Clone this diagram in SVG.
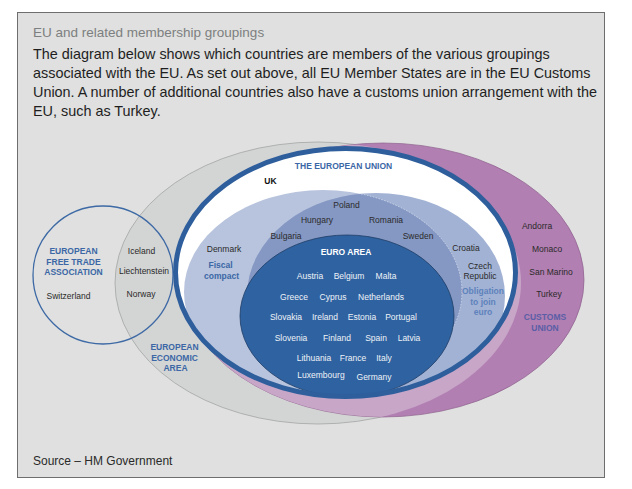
<svg xmlns="http://www.w3.org/2000/svg" width="632" height="489" viewBox="0 0 632 489">
<defs>
<style>
text{font-family:"Liberation Sans",Arial,Helvetica,sans-serif}
.hd{font-size:14.4px;fill:#1e1e1e}
.ti{font-size:13.5px;fill:#7d7f80}
.c{font-size:8.5px;fill:#2a2a2a;text-anchor:middle}
.w{font-size:8.5px;fill:#eef2f8;text-anchor:middle}
.b{font-size:8.5px;font-weight:bold;fill:#3b67a6;text-anchor:middle}
.ob{font-size:8.5px;font-weight:bold;fill:#5e82bc;text-anchor:middle}
.cu{font-size:8.5px;font-weight:bold;fill:#5a5ea6;text-anchor:middle}
</style>
<clipPath id="clipEU"><ellipse cx="345.5" cy="272.5" rx="170" ry="124"/></clipPath>
<clipPath id="clipCU"><ellipse cx="383" cy="280" rx="201" ry="137"/></clipPath>
<clipPath id="clipFC"><ellipse cx="323" cy="292" rx="139" ry="102"/></clipPath>
<clipPath id="clipOB"><ellipse cx="376" cy="296" rx="129" ry="103"/></clipPath>
</defs>
<rect x="0" y="0" width="632" height="489" fill="#ffffff"/>
<rect id="panel" x="17.5" y="12.5" width="587" height="465" fill="#dfe0df" stroke="#6e6e6e" stroke-width="1"/>
<text class="ti" x="33" y="37">EU and related membership groupings</text>
<text class="hd" x="33" y="59">The diagram below shows which countries are members of the various groupings</text>
<text class="hd" x="33" y="78">associated with the EU. As set out above, all EU Member States are in the EU Customs</text>
<text class="hd" x="33" y="97">Union. A number of additional countries also have a customs union arrangement with the</text>
<text class="hd" x="33" y="116">EU, such as Turkey.</text>

<g id="eea">
<ellipse cx="318" cy="283" rx="203" ry="141" fill="#d3d4d4" stroke="#a3a4a4" stroke-width="0.8"/>
</g>
<g id="customs-union">
<ellipse cx="383" cy="280" rx="201" ry="137" fill="#b27fb2" stroke="#8c5f8c" stroke-width="0.7"/>
<ellipse cx="318" cy="283" rx="203" ry="141" fill="#c7a6c7" clip-path="url(#clipCU)"/>
</g>
<g id="efta">
<ellipse cx="103" cy="275" rx="70" ry="69" fill="none" stroke="#3d69a5" stroke-width="1.3"/>
</g>
<g id="eu">
<ellipse cx="345.5" cy="272.5" rx="170" ry="124" fill="#ffffff"/>
</g>
<g id="fiscal-compact" clip-path="url(#clipEU)">
<ellipse cx="323" cy="292" rx="139" ry="102" fill="#b8c4dd"/>
</g>
<g id="obligation" clip-path="url(#clipEU)">
<ellipse cx="376" cy="296" rx="129" ry="103" fill="#a2b2d4"/>
<ellipse cx="323" cy="292" rx="139" ry="102" fill="#8598c3" clip-path="url(#clipOB)"/>
<ellipse cx="323" cy="292" rx="139" ry="102" fill="none" stroke="#c9d2e6" stroke-width="1" stroke-dasharray="1.5 1.5" clip-path="url(#clipOB)"/>
</g>
<g id="euro-area">
<ellipse cx="347" cy="316" rx="107" ry="81" fill="#2f62a0" stroke="#1d3c66" stroke-width="0.8"/>
</g>
<g id="eu-ring">
<ellipse cx="345.5" cy="272.5" rx="170" ry="124" fill="none" stroke="#2e5e9c" stroke-width="5"/>
</g>
<g id="connectors"/>

<g id="labels-efta">
<text class="b" x="73.5" y="254">EUROPEAN</text>
<text class="b" x="73.5" y="264.5">FREE TRADE</text>
<text class="b" x="73.5" y="275">ASSOCIATION</text>
<text class="c" x="68.5" y="299">Switzerland</text>
<text class="c" x="141.5" y="254">Iceland</text>
<text class="c" x="144" y="274">Liechtenstein</text>
<text class="c" x="141" y="297">Norway</text>
</g>
<g id="labels-eea">
<text class="b" x="174.5" y="350">EUROPEAN</text>
<text class="b" x="174.5" y="360.5">ECONOMIC</text>
<text class="b" x="175.5" y="371">AREA</text>
</g>
<g id="labels-eu">
<text class="b" x="343.5" y="168.5">THE EUROPEAN UNION</text>
<text x="270.5" y="184" style="font-size:8.5px;font-weight:bold;fill:#111;text-anchor:middle">UK</text>
<text class="c" x="346.5" y="208">Poland</text>
<text class="c" x="317" y="223">Hungary</text>
<text class="c" x="386" y="223">Romania</text>
<text class="c" x="286" y="239">Bulgaria</text>
<text class="c" x="418" y="239">Sweden</text>
<text class="c" x="224" y="252">Denmark</text>
<text class="c" x="466" y="251">Croatia</text>
<text class="b" x="220.5" y="268">Fiscal</text>
<text class="b" x="221.5" y="278.5">compact</text>
<text class="c" x="480" y="269">Czech</text>
<text class="c" x="480" y="279">Republic</text>
<text class="ob" x="483" y="294">Obligation</text>
<text class="ob" x="483" y="304.5">to join</text>
<text class="ob" x="483" y="315">euro</text>
</g>
<g id="labels-euro">
<text x="346" y="255" style="font-size:8.5px;font-weight:bold;fill:#ffffff;text-anchor:middle">EURO AREA</text>
<text class="w" x="310" y="279">Austria</text>
<text class="w" x="349" y="279">Belgium</text>
<text class="w" x="386" y="279">Malta</text>
<text class="w" x="294" y="300">Greece</text>
<text class="w" x="333" y="300">Cyprus</text>
<text class="w" x="381" y="300">Netherlands</text>
<text class="w" x="286" y="320">Slovakia</text>
<text class="w" x="325" y="320">Ireland</text>
<text class="w" x="362" y="320">Estonia</text>
<text class="w" x="401" y="320">Portugal</text>
<text class="w" x="291" y="341">Slovenia</text>
<text class="w" x="337" y="341">Finland</text>
<text class="w" x="376" y="341">Spain</text>
<text class="w" x="409" y="341">Latvia</text>
<text class="w" x="314" y="361">Lithuania</text>
<text class="w" x="353" y="361">France</text>
<text class="w" x="384" y="361">Italy</text>
<text class="w" x="321" y="378">Luxembourg</text>
<text class="w" x="374" y="380">Germany</text>
</g>
<g id="labels-customs">
<text class="c" x="537" y="229">Andorra</text>
<text class="c" x="547" y="252">Monaco</text>
<text class="c" x="551" y="275">San Marino</text>
<text class="c" x="549" y="297">Turkey</text>
<text class="cu" x="545" y="320">CUSTOMS</text>
<text class="cu" x="545" y="331">UNION</text>
</g>
<text x="33" y="465" style="font-size:12px;fill:#2a2a2a">Source – HM Government</text>
</svg>
